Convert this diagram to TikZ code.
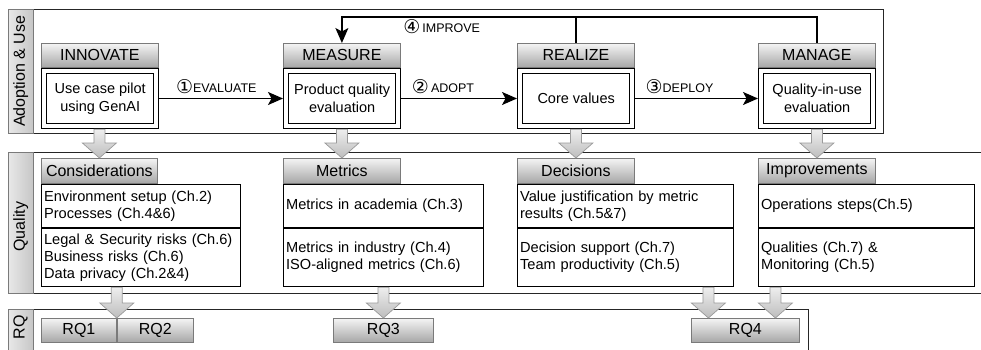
\documentclass[tikz,border=0pt]{standalone}
\usepackage{fontspec}
\setmainfont{Liberation Sans}
\newfontfamily\symfont{DejaVu Sans}
\usetikzlibrary{arrows.meta,calc}

\definecolor{hdrtop}{HTML}{F4F4F4}
\definecolor{hdrbot}{HTML}{A6A6A6}
\definecolor{hdrline}{HTML}{7A7A7A}
\definecolor{stripL}{HTML}{E8E8E8}
\definecolor{stripR}{HTML}{C6C6C6}
\definecolor{arrtop}{HTML}{EEEEEE}
\definecolor{arrbot}{HTML}{BDBDBD}
\definecolor{arrline}{HTML}{9A9A9A}

% circled step number
\newcommand\circnum[1]{{\symfont\fontsize{19}{14}\selectfont\raisebox{-1.5pt}{#1}}}

% wide grey arrow pointing down from #1 to the tip #2
\newcommand\blockdown[2]{%
  \path[barrow] let \p1=#1, \p2=#2 in
    (\x2-5.5pt,\y1) -- (\x2-5.5pt,\y2+15pt) -- (\x2-17pt,\y2+15pt) -- (\x2,\y2)
    -- (\x2+17pt,\y2+15pt) -- (\x2+5.5pt,\y2+15pt) -- (\x2+5.5pt,\y1) -- cycle;}

\begin{document}
\begin{tikzpicture}[x=1pt,y=-1pt,
  hdr/.style={draw=hdrline, line width=0.8pt, top color=hdrtop, bottom color=hdrbot,
    inner sep=0pt, anchor=north west, font=\fontsize{16}{19}\selectfont},
  obox/.style={draw, line width=1.4pt, fill=white, minimum width=117, minimum height=60,
    inner sep=0pt, anchor=north west},
  ibox/.style={draw, line width=1.4pt, minimum width=107, minimum height=50, inner sep=0pt,
    align=center, font=\fontsize{14.5}{18}\selectfont},
  qsec/.style={draw, line width=1.2pt, fill=white, inner xsep=2.5pt, inner ysep=0pt,
    anchor=north west, align=left, font=\fontsize{14.6}{17}\selectfont},
  strip/.style={draw=hdrline, line width=0.7pt, left color=stripL, right color=stripR,
    inner sep=0pt, anchor=north west, minimum width=25},
  striplabel/.style={rotate=90, font=\fontsize{16}{19}\selectfont},
  panel/.style={draw=black!85, line width=0.8pt},
  flow/.style={line width=1.3pt, -{Stealth[length=15pt,width=13pt,inset=3.5pt]}},
  conn/.style={line width=1.3pt},
  lbl/.style={font=\fontsize{12.5}{14}\selectfont, inner sep=1pt},
  barrow/.style={draw=arrline, line width=0.7pt, top color=arrtop, bottom color=arrbot},
]
\useasboundingbox (0,0) rectangle (981,350);

% ---------- panel frames ----------
\draw[panel] (8,9) rectangle (883,133);
\draw[panel] (981,152) -- (8,152) -- (8,293) -- (981,293);
\draw[panel] (8,352) -- (8,309) -- (808,309) -- (808,352);

\node[strip, minimum height=124] (s1) at (8,9) {};
\node[striplabel] at (s1) {Adoption \& Use};
\node[strip, minimum height=141] (s2) at (8,152) {};
\node[striplabel] at ([yshift=-4pt]s2.center) {Quality};
\node[strip, minimum height=44] (s3) at (8,309) {};
\node[striplabel] at (20.5,327) {RQ};

% ---------- adoption & use ----------
\node[hdr, minimum width=117, minimum height=24] (h1) at (41,43) {INNOVATE};
\node[hdr, minimum width=117, minimum height=24] (h2) at (283,43) {MEASURE};
\node[hdr, minimum width=117, minimum height=24] (h3) at (517,43) {REALIZE};
\node[hdr, minimum width=117, minimum height=24] (h4) at (758,43) {MANAGE};

\node[obox] (b1) at (h1.south west) {};
\node[obox] (b2) at (h2.south west) {};
\node[obox] (b3) at (h3.south west) {};
\node[obox] (b4) at (h4.south west) {};

\node[ibox] (i1) at (b1) {Use case pilot\\using GenAI};
\node[ibox] (i2) at (b2) {Product quality\\evaluation};
\node[ibox] (i3) at (b3) {Core values};
\node[ibox] (i4) at (b4) {Quality-in-use\\evaluation};

\draw[flow] (b1.east) -- node[lbl, pos=0.46, above=3pt] {\circnum{①}EVALUATE} (b2.west);
\draw[flow] (b2.east) -- node[lbl, pos=0.36, above=3pt] {\circnum{②}\,ADOPT} (b3.west);
\draw[flow] (b3.east) -- node[lbl, pos=0.36, above=3pt] {\circnum{③}DEPLOY} (b4.west);

\coordinate (loop) at (0,17);
\draw[flow] (h4.north) -- (h4.north |- loop)
  -- node[lbl, pos=0.79, below=1pt] {\circnum{④}\,IMPROVE} (h2.north |- loop) -- (h2.north);
\draw[conn] (h3.north) -- (h3.north |- loop);

% ---------- quality ----------
\node[hdr, minimum width=116, minimum height=25] (q1) at (41,158) {Considerations};
\node[hdr, minimum width=117, minimum height=25] (q2) at (283,158) {Metrics};
\node[hdr, minimum width=117, minimum height=25] (q3) at (517,158) {Decisions};
\node[hdr, minimum width=117, minimum height=25] (q4) at (758,158) {Improvements};

\node[qsec, text width=194, minimum height=43] (q1a) at (q1.south west)
  {Environment setup (Ch.2)\\Processes (Ch.4\&6)};
\node[qsec, text width=194, minimum height=58] (q1b) at (q1a.south west)
  {Legal \& Security risks (Ch.6)\\Business risks (Ch.6)\\Data privacy (Ch.2\&4)};
\node[qsec, text width=195, minimum height=43] (q2a) at (q2.south west)
  {Metrics in academia (Ch.3)};
\node[qsec, text width=195, minimum height=58] (q2b) at (q2a.south west)
  {Metrics in industry (Ch.4)\\ISO-aligned metrics (Ch.6)};
\node[qsec, text width=211, minimum height=43] (q3a) at (q3.south west)
  {Value justification by metric\\results (Ch.5\&7)};
\node[qsec, text width=211, minimum height=58] (q3b) at (q3a.south west)
  {Decision support (Ch.7)\\Team productivity (Ch.5)};
\node[qsec, text width=211, minimum height=43] (q4a) at (q4.south west)
  {Operations steps(Ch.5)};
\node[qsec, text width=211, minimum height=58] (q4b) at (q4a.south west)
  {Qualities (Ch.7) \&\\Monitoring (Ch.5)};

% ---------- research questions ----------
\node[hdr, minimum width=75, minimum height=24] (rq1) at (41,318) {RQ1};
\node[hdr, minimum width=76, minimum height=24] (rq2) at (rq1.north east) {RQ2};
\node[hdr, minimum width=100, minimum height=24] (rq3) at (333,318) {RQ3};
\node[hdr, minimum width=108, minimum height=24] (rq4) at (691,318) {RQ4};

\coordinate (rq4a) at ($(rq4.north)+(-37,0)$);
\coordinate (rq4b) at ($(rq4.north)+(30,0)$);

% ---------- grey block arrows between layers ----------
\blockdown{(b1.south)}{(q1.north)}
\blockdown{(b2.south)}{(q2.north)}
\blockdown{(b3.south)}{(q3.north)}
\blockdown{(b4.south)}{(q4.north)}
\blockdown{(q1b.south -| rq1.north east)}{(rq1.north east)}
\blockdown{(q2b.south -| rq3.north)}{(rq3.north)}
\blockdown{(q3b.south -| rq4a)}{(rq4a)}
\blockdown{(q4b.south -| rq4b)}{(rq4b)}

\end{tikzpicture}
\end{document}
